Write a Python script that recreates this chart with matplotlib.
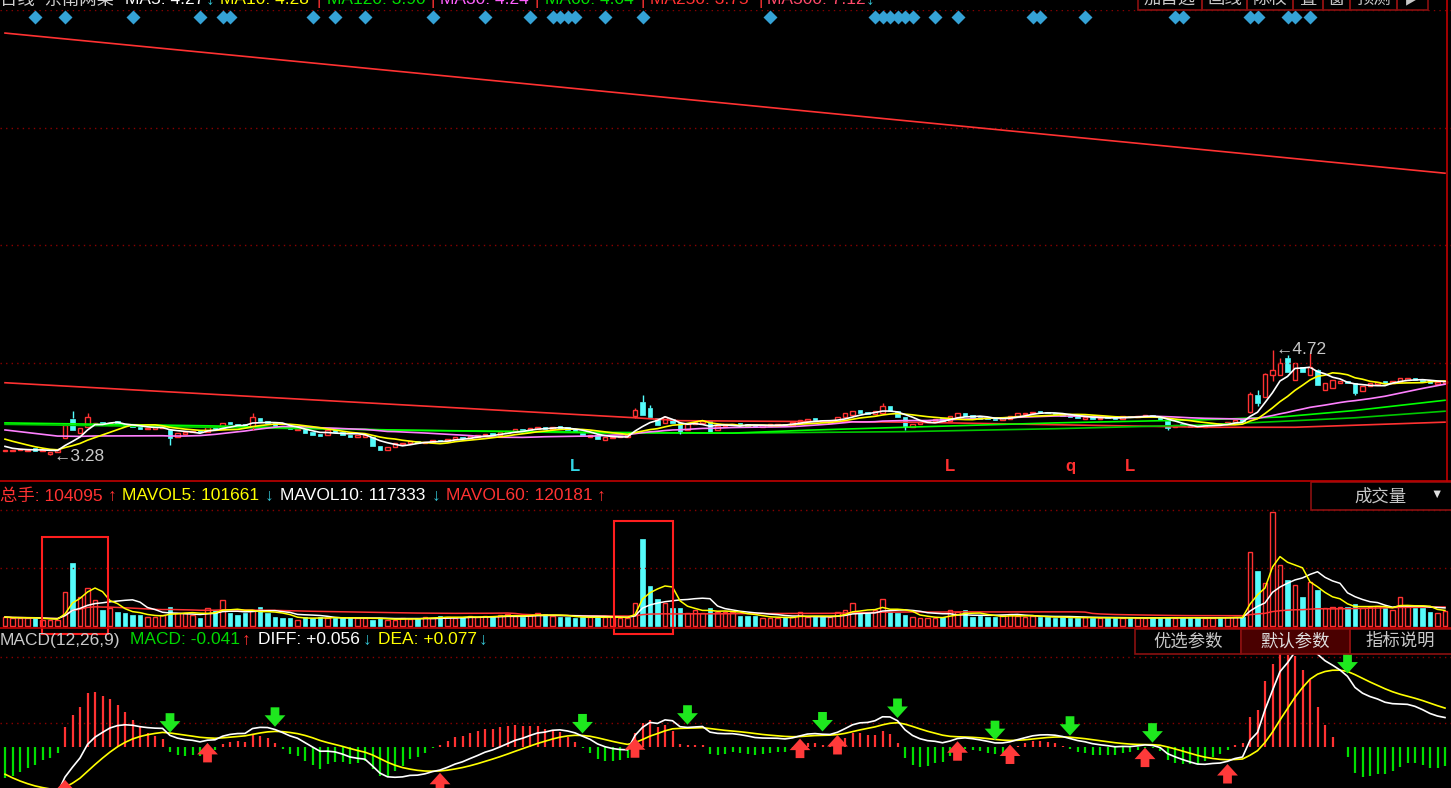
import numpy as np
import pandas as pd
import matplotlib
matplotlib.use("Agg")
import matplotlib.pyplot as plt
import matplotlib.transforms as mtransforms
from matplotlib.lines import Line2D
from matplotlib.patches import Rectangle

plt.rcParams['font.family'] = ['Liberation Sans', 'Noto Sans CJK SC', 'DejaVu Sans']

# ---------------- data ----------------
# closes before the visible window (only used to warm up the averages / MACD)
pre_close = [3.72, 3.70, 3.74, 3.71, 3.69, 3.72, 3.70, 3.68, 3.71, 3.69,
             3.70, 3.68, 3.66, 3.69, 3.67, 3.70, 3.68, 3.66, 3.64, 3.65,
             3.66, 3.64, 3.62, 3.60, 3.58, 3.54, 3.48, 3.42, 3.38, 3.36]

close = [3.35, 3.35, 3.36, 3.35, 3.34, 3.35, 3.32, 3.35, 3.69, 3.62,
         3.65, 3.80, 3.72, 3.70, 3.72, 3.70, 3.68, 3.66, 3.64, 3.65,
         3.66, 3.67, 3.51, 3.58, 3.60, 3.61, 3.59, 3.66, 3.64, 3.72,
         3.70, 3.69, 3.68, 3.80, 3.74, 3.72, 3.68, 3.65, 3.63, 3.64,
         3.58, 3.56, 3.54, 3.62, 3.60, 3.56, 3.53, 3.55, 3.55, 3.40,
         3.35, 3.39, 3.44, 3.45, 3.47, 3.44, 3.46, 3.48, 3.47, 3.50,
         3.52, 3.51, 3.54, 3.55, 3.57, 3.56, 3.59, 3.61, 3.63, 3.62,
         3.65, 3.66, 3.64, 3.67, 3.65, 3.62, 3.60, 3.56, 3.55, 3.50,
         3.52, 3.53, 3.54, 3.55, 3.90, 3.83, 3.80, 3.69, 3.80, 3.72,
         3.60, 3.70, 3.73, 3.74, 3.60, 3.68, 3.70, 3.71, 3.69, 3.68,
         3.67, 3.69, 3.70, 3.70, 3.69, 3.73, 3.76, 3.77, 3.75, 3.73,
         3.74, 3.80, 3.85, 3.88, 3.86, 3.84, 3.88, 3.95, 3.88, 3.80,
         3.66, 3.70, 3.73, 3.75, 3.77, 3.75, 3.82, 3.85, 3.82, 3.79,
         3.78, 3.77, 3.76, 3.79, 3.82, 3.85, 3.86, 3.87, 3.86, 3.85,
         3.84, 3.82, 3.80, 3.79, 3.80, 3.78, 3.79, 3.79, 3.78, 3.81,
         3.80, 3.82, 3.83, 3.80, 3.76, 3.65, 3.69, 3.68, 3.67, 3.66,
         3.69, 3.71, 3.70, 3.73, 3.76, 3.74, 4.11, 3.99, 4.39, 4.44,
         4.54, 4.42, 4.54, 4.42, 4.49, 4.24, 4.27, 4.31, 4.30, 4.26,
         4.13, 4.22, 4.26, 4.28, 4.26, 4.30, 4.33, 4.34, 4.31, 4.28,
         4.26, 4.28, 4.30]

open_ = [3.33, 3.34, 3.35, 3.34, 3.37, 3.33, 3.30, 3.32, 3.51, 3.78,
         3.58, 3.66, 3.70, 3.73, 3.69, 3.74, 3.71, 3.69, 3.67, 3.63,
         3.64, 3.65, 3.62, 3.53, 3.57, 3.59, 3.62, 3.60, 3.67, 3.64,
         3.73, 3.71, 3.70, 3.67, 3.79, 3.75, 3.72, 3.68, 3.66, 3.62,
         3.63, 3.59, 3.57, 3.55, 3.63, 3.60, 3.56, 3.52, 3.52, 3.53,
         3.40, 3.35, 3.39, 3.43, 3.45, 3.47, 3.44, 3.46, 3.49, 3.47,
         3.50, 3.53, 3.51, 3.53, 3.55, 3.58, 3.56, 3.58, 3.60, 3.64,
         3.62, 3.64, 3.67, 3.64, 3.68, 3.66, 3.63, 3.60, 3.53, 3.55,
         3.49, 3.51, 3.52, 3.53, 3.82, 4.00, 3.92, 3.78, 3.72, 3.78,
         3.72, 3.62, 3.70, 3.72, 3.75, 3.62, 3.68, 3.69, 3.72, 3.70,
         3.69, 3.67, 3.68, 3.69, 3.71, 3.69, 3.72, 3.75, 3.78, 3.76,
         3.72, 3.74, 3.80, 3.83, 3.89, 3.87, 3.84, 3.86, 3.95, 3.88,
         3.80, 3.66, 3.70, 3.73, 3.75, 3.78, 3.75, 3.80, 3.86, 3.83,
         3.80, 3.79, 3.78, 3.76, 3.78, 3.82, 3.84, 3.85, 3.88, 3.87,
         3.86, 3.84, 3.83, 3.81, 3.78, 3.81, 3.77, 3.81, 3.80, 3.78,
         3.82, 3.80, 3.81, 3.83, 3.80, 3.75, 3.66, 3.70, 3.69, 3.68,
         3.66, 3.69, 3.72, 3.70, 3.73, 3.77, 3.87, 4.10, 4.07, 4.38,
         4.38, 4.61, 4.31, 4.49, 4.38, 4.44, 4.17, 4.20, 4.26, 4.30,
         4.27, 4.15, 4.22, 4.25, 4.29, 4.26, 4.28, 4.31, 4.34, 4.31,
         4.29, 4.25, 4.27]

# visible shadows (day index: high / low)
wick_high = {9: 3.88, 11: 3.86, 33: 3.86, 84: 3.93, 85: 4.10, 86: 3.97,
             117: 3.99, 166: 4.14, 167: 4.17, 168: 4.40, 169: 4.72, 170: 4.61,
             171: 4.65, 174: 4.68, 175: 4.46}
wick_low = {6: 3.28, 22: 3.42, 33: 3.62, 84: 3.78, 90: 3.57, 120: 3.62,
            155: 3.62, 166: 3.85, 167: 3.95, 169: 4.30, 180: 4.10}

# volume in thousand lots
volume = [62, 56, 56, 56, 56, 42, 42, 42, 236, 437,
          201, 264, 180, 111, 125, 97, 90, 76, 76, 62,
          62, 76, 132, 90, 90, 76, 56, 125, 111, 180,
          90, 76, 90, 111, 132, 90, 62, 56, 56, 42,
          62, 56, 62, 56, 56, 56, 56, 56, 56, 42,
          56, 42, 42, 56, 49, 56, 62, 56, 69, 62,
          56, 62, 69, 62, 69, 62, 76, 83, 69, 62,
          76, 90, 83, 69, 62, 62, 56, 62, 62, 62,
          62, 62, 56, 56, 160, 604, 278, 187, 160, 125,
          125, 90, 111, 90, 125, 97, 97, 97, 69, 69,
          69, 56, 56, 56, 62, 62, 97, 62, 62, 62,
          62, 97, 111, 160, 90, 97, 111, 187, 97, 90,
          76, 62, 56, 56, 56, 62, 111, 97, 111, 62,
          69, 62, 62, 76, 83, 69, 62, 69, 62, 62,
          56, 62, 56, 56, 62, 56, 56, 56, 56, 56,
          56, 56, 56, 56, 56, 62, 56, 56, 56, 56,
          56, 56, 56, 62, 62, 62, 514, 382, 298, 791,
          423, 319, 285, 201, 305, 250, 125, 132, 132, 132,
          153, 125, 132, 139, 125, 111, 201, 139, 125, 125,
          97, 90, 104]

# long averages read directly as (day, value) points
ma60_pts = [(0, 3.72), (27, 3.68), (53, 3.62), (80, 3.59), (97, 3.58), (107, 3.62),
            (120, 3.66), (140, 3.72), (159, 3.76), (170, 3.80), (180, 3.89), (192, 4.03)]
ma120_pts = [(0, 3.70), (27, 3.66), (53, 3.62), (80, 3.58), (97, 3.58), (120, 3.60),
             (140, 3.64), (159, 3.69), (170, 3.74), (180, 3.79), (192, 3.88)]
ma250_pts = [(0, 4.27), (84, 3.79), (90, 3.75), (120, 3.73), (160, 3.66), (172, 3.66), (192, 3.73)]
ma500_pts = [(0, 9.06), (192, 7.14)]

# signal markers
top_marks = [4, 8, 17, 26, 29, 30, 41, 44, 48, 57, 64, 70, 73, 74, 75, 76, 80, 85, 102,
             116, 117, 118, 119, 120, 121, 124, 127, 137, 138, 144, 156, 157, 166, 167,
             171, 172, 174]
letters = [(76, 'L', '#33d6e6'), (126, 'L', '#ff3030'), (142, 'q', '#ff3030'), (150, 'L', '#ff3030')]
golden = [8, 27, 58, 84, 106, 111, 127, 134, 152, 163]
dead = [22, 36, 77, 91, 109, 119, 132, 142, 153, 179]

# ---------------- derived series ----------------
n = len(close)
days = np.arange(n)
full = pd.Series(pre_close + close)
k = len(pre_close)
ma5 = full.rolling(5).mean().values[k:]
ma10 = full.rolling(10).mean().values[k:]
ma30 = full.rolling(30, min_periods=1).mean().values[k:]
ema12 = full.ewm(span=12, adjust=False).mean()
ema26 = full.ewm(span=26, adjust=False).mean()
diff_full = ema12 - ema26
dea_full = diff_full.ewm(span=9, adjust=False).mean()
diff = diff_full.values[k:]
dea = dea_full.values[k:]
macd = 2 * (diff - dea)

vol = pd.Series(volume, dtype=float)
mavol5 = vol.rolling(5, min_periods=1).mean().values
mavol10 = vol.rolling(10, min_periods=1).mean().values
mavol60 = vol.rolling(60, min_periods=1).mean().values

c = np.array(close)
o = np.array(open_)
up = c >= o

RED = '#ff3232'
CYAN = '#54fcfc'
GRID = '#8a0000'

# ---------------- figure ----------------
W, H = 1451, 788
fig = plt.figure(figsize=(W / 100, H / 100), dpi=100, facecolor='black')
PX = mtransforms.Affine2D().scale(1, -1).translate(0, H)
xlim = (-5 / 7.5, (W - 5) / 7.5)


def panel(y0, y1, ylim):
    ax = fig.add_axes([0, 1 - y1 / H, 1, (y1 - y0) / H])
    ax.set_xlim(*xlim)
    ax.set_ylim(*ylim)
    ax.axis('off')
    return ax


def price_at(y):
    return 3.28 + (455 - y) / 73


def vol_at(y):
    return (626 - y) * 6.94


def macd_at(y):
    return (747 - y) / 520


ax1 = panel(10, 481, (price_at(481), price_at(10)))
ax2 = panel(481, 628, (vol_at(628), vol_at(481)))
ax3 = panel(628, 788, (macd_at(788), macd_at(628)))

# grids
for yy in [10, 128, 245, 363]:
    ax1.axhline(price_at(yy), color=GRID, lw=1, ls=(0, (1, 3)))
for yy in [510, 568]:
    ax2.axhline(vol_at(yy), color=GRID, lw=1, ls=(0, (1, 3)))
for yy in [657, 723]:
    ax3.axhline(macd_at(yy), color=GRID, lw=1, ls=(0, (1, 3)))

# ---- price panel ----
ax1.plot(*zip(*ma500_pts), color=RED, lw=1.2)
ax1.plot(*zip(*ma250_pts), color=RED, lw=1.2)
ax1.plot(*zip(*ma120_pts), color='#00c800', lw=1.2)
ax1.plot(*zip(*ma60_pts), color='#00ff00', lw=1.2)
ax1.plot(days, ma30, color='#ff80ff', lw=1.2)
ax1.plot(days, ma10, color='#ffff00', lw=1.2)
ax1.plot(days, ma5, color='#ffffff', lw=1.2)

for i in wick_high:
    ax1.vlines(i, max(c[i], o[i]), wick_high[i], color=RED if up[i] else CYAN, lw=1)
for i in wick_low:
    ax1.vlines(i, wick_low[i], min(c[i], o[i]), color=RED if up[i] else CYAN, lw=1)

body = np.maximum(np.abs(c - o), 0.014)
bottom = np.minimum(c, o)
ax1.bar(days[up], body[up], bottom=bottom[up], width=0.62, facecolor='black',
        edgecolor=RED, lw=1)
ax1.bar(days[~up], body[~up], bottom=bottom[~up], width=0.66, facecolor=CYAN,
        edgecolor=CYAN, lw=0.5)

ax1.text(169.4, 4.72, '\u21904.72', color='#c8c8c8', fontsize=12.5, va='center', ha='left')
ax1.text(6.4, 3.26, '\u21903.28', color='#c8c8c8', fontsize=12.5, va='center', ha='left')

tx = ax1.get_xaxis_transform()
ax1.plot(top_marks, [0.985] * len(top_marks), transform=tx, ls='none', marker='D',
         ms=7, color='#35a2d6', mec='none')
for i, s, col in letters:
    ax1.text(i, 0.03, s, transform=tx, color=col, fontsize=12, fontweight='bold',
             ha='center', va='center')

# ---- volume panel ----
ax2.bar(days[up], np.array(volume)[up], width=0.62, facecolor='black', edgecolor=RED, lw=1)
ax2.bar(days[~up], np.array(volume)[~up], width=0.66, facecolor=CYAN, edgecolor=CYAN, lw=0.5)
ax2.plot(days, mavol60, color=RED, lw=1.1)
ax2.plot(days, mavol10, color='#ffffff', lw=1.1)
ax2.plot(days, mavol5, color='#ffff00', lw=1.1)
for x0, x1, top in [(4.9, 13.7, vol_at(537)), (81.2, 89.1, vol_at(521))]:
    ax2.add_patch(Rectangle((x0, vol_at(634)), x1 - x0, top - vol_at(634), fill=False,
                            edgecolor='#ff1e1e', lw=1.5, clip_on=False, zorder=5))

# ---- MACD panel ----
ax3.vlines(days, 0, macd, colors=np.where(macd >= 0, RED, '#00e000'), lw=1.6)
ax3.plot(days, dea, color='#ffff00', lw=1.2)
ax3.plot(days, diff, color='#ffffff', lw=1.2)
arrow = 'simple,head_length=0.55,head_width=1.0,tail_width=0.42'
for i in golden:
    ax3.annotate('', xy=(i, diff[i]), xytext=(0, -18), textcoords='offset points',
                 arrowprops=dict(arrowstyle=arrow, fc='#ff3a3a', ec='none', mutation_scale=15))
for i in dead:
    ax3.annotate('', xy=(i, diff[i]), xytext=(0, 18), textcoords='offset points',
                 arrowprops=dict(arrowstyle=arrow, fc='#1ee81e', ec='none', mutation_scale=15))

# ---------------- frame, headers, buttons ----------------
def hline(y, x0=0, x1=W, color='#c00000', lw=1.2):
    fig.add_artist(Line2D([x0, x1], [y, y], transform=PX, color=color, lw=lw))


def box(x0, y0, x1, y1, fc='none', ec='#8b1010'):
    fig.add_artist(Rectangle((x0, y0), x1 - x0, y1 - y0, transform=PX, facecolor=fc,
                             edgecolor=ec, lw=1.2))


def label(x, y, s, color, size=12.5, ha='left'):
    fig.text(x, y, s, transform=PX, color=color, fontsize=size, ha=ha, va='center')


hline(481)
hline(628)
fig.add_artist(Line2D([1447, 1447], [0, 481], transform=PX, color='#c00000', lw=1.2))

# price header (cut off at the top edge)
hy = 0
label(0, hy, '日线  东南网架', '#d0d0d0')
label(125, hy, 'MA5: 4.27', '#ffffff')
label(206, hy, '\u2193', '#33c0d0')
label(220, hy, 'MA10: 4.28', '#ffff00')
label(316, hy, '|', RED)
label(327, hy, 'MA120: 3.90', '#00e000')
label(430, hy, '|', RED)
label(440, hy, 'MA30: 4.24', '#ff60ff')
label(535, hy, '|', RED)
label(545, hy, 'MA60: 4.04', '#00e000')
label(640, hy, '|', RED)
label(650, hy, 'MA250: 3.75', RED)
label(758, hy, '|', RED)
label(767, hy, 'MA500: 7.12', '#ff4a6a')
label(866, hy, '\u2193', '#33c0d0')

edges = [1138, 1202, 1247, 1293, 1323, 1350, 1397, 1428]
names = ['加自选', '画线', '除权', '叠', '窗', '预测', '\u25b6']
for a, b, s in zip(edges[:-1], edges[1:], names):
    box(a, -12, b, 10)
    label((a + b) / 2, -1, s, '#c8c8c8', ha='center')

# volume header
vy = 496
label(0, vy, '总手: 104095', RED)
label(108, vy, '\u2191', RED)
label(122, vy, 'MAVOL5: 101661', '#ffff00')
label(265, vy, '\u2193', '#33c0d0')
label(280, vy, 'MAVOL10: 117333', '#ffffff')
label(432, vy, '\u2193', '#33c0d0')
label(446, vy, 'MAVOL60: 120181', RED)
label(597, vy, '\u2191', RED)
box(1311, 482, W + 2, 510)
label(1380, vy, '成交量', '#c8c8c8', ha='center')
label(1437, 495, '\u25bc', '#e0e0e0', size=9, ha='center')

# MACD header
my = 640
label(0, my, 'MACD(12,26,9)', '#c8c8c8')
label(130, my, 'MACD: -0.041', '#00d800')
label(242, my, '\u2191', RED)
label(258, my, 'DIFF: +0.056', '#ffffff')
label(363, my, '\u2193', '#33c0d0')
label(378, my, 'DEA: +0.077', '#ffff00')
label(479, my, '\u2193', '#33c0d0')
box(1135, 629, 1241, 654)
box(1241, 629, 1350, 654, fc='#4a0000')
box(1350, 629, W + 2, 654)
label(1188, 641, '优选参数', '#c8c8c8', ha='center')
label(1295, 641, '默认参数', '#e0e0e0', ha='center')
label(1400, 641, '指标说明', '#c8c8c8', ha='center')

fig.savefig('out.png', dpi=100, facecolor='black')
